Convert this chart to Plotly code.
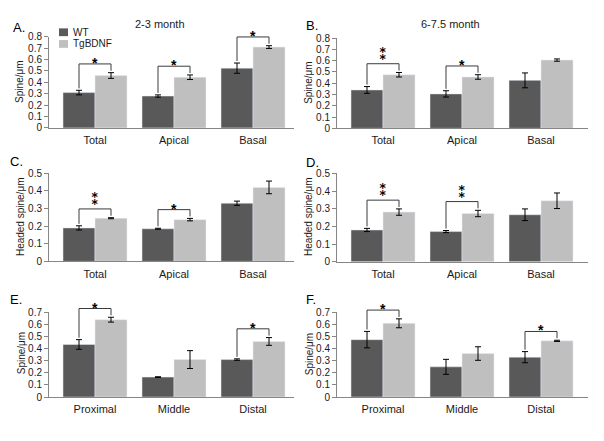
import plotly.graph_objects as go

W, H = 604, 441

# ---------------- data ----------------
groups_regions = ["Total", "Apical", "Basal"]
groups_segments = ["Proximal", "Middle", "Distal"]
series_names = ["WT", "TgBDNF"]
period_titles = ["2-3 month", "6-7.5 month"]

# A: spine density, 2-3 month
a_wt = [0.31, 0.28, 0.525]
a_wt_err = [0.02, 0.01, 0.045]
a_tg = [0.46, 0.445, 0.71]
a_tg_err = [0.025, 0.02, 0.012]
a_sig = ["*", "*", "*"]

# B: spine density, 6-7.5 month
b_wt = [0.34, 0.305, 0.425]
b_wt_err = [0.03, 0.028, 0.066]
b_tg = [0.475, 0.455, 0.605]
b_tg_err = [0.02, 0.02, 0.01]
b_sig = ["**", "*", ""]

# C: headed spine density, 2-3 month
c_wt = [0.19, 0.185, 0.33]
c_wt_err = [0.012, 0.003, 0.012]
c_tg = [0.245, 0.237, 0.42]
c_tg_err = [0.003, 0.007, 0.036]
c_sig = ["**", "*", ""]

# D: headed spine density, 6-7.5 month
d_wt = [0.18, 0.171, 0.266]
d_wt_err = [0.009, 0.006, 0.033]
d_tg = [0.281, 0.273, 0.345]
d_tg_err = [0.018, 0.018, 0.044]
d_sig = ["**", "**", ""]

# E: spine density by segment, 2-3 month
e_wt = [0.435, 0.165, 0.31]
e_wt_err = [0.04, 0.003, 0.006]
e_tg = [0.64, 0.31, 0.46]
e_tg_err = [0.02, 0.074, 0.032]
e_sig = ["*", "", "*"]

# F: spine density by segment, 6-7.5 month
f_wt = [0.475, 0.25, 0.33]
f_wt_err = [0.068, 0.062, 0.046]
f_tg = [0.61, 0.36, 0.465]
f_tg_err = [0.037, 0.056, 0.005]
f_sig = ["*", "", "*"]

y_titles = ["Spine/μm", "Headed spine/μm"]

# ---------------- layout / style ----------------
WT_COLOR = "#595959"
TG_COLOR = "#bfbfbf"
AXIS_COLOR = "#868686"
TEXT_COLOR = "#1a1a1a"
FONT = "Arial, Liberation Sans, sans-serif"
STAR_FONT = "DejaVu Sans, Arial, sans-serif"

panels = [
    dict(letter="A.", cats=groups_regions, wt=a_wt, wte=a_wt_err, tg=a_tg, tge=a_tg_err, sig=a_sig,
         ymax=0.8, px=(49, 294), py=(31.7, 125.3), ytitle=y_titles[0], lxy=(11, 22), txy=(20, 78)),
    dict(letter="B.", cats=groups_regions, wt=b_wt, wte=b_wt_err, tg=b_tg, tge=b_tg_err, sig=b_sig,
         ymax=0.8, px=(337, 588), py=(33.0, 125.7), ytitle=y_titles[0], lxy=(304, 20), txy=(309, 79)),
    dict(letter="C.", cats=groups_regions, wt=c_wt, wte=c_wt_err, tg=c_tg, tge=c_tg_err, sig=c_sig,
         ymax=0.5, px=(49, 294), py=(172.0, 262.5), ytitle=y_titles[1], lxy=(8, 160), txy=(20, 217)),
    dict(letter="D.", cats=groups_regions, wt=d_wt, wte=d_wt_err, tg=d_tg, tge=d_tg_err, sig=d_sig,
         ymax=0.5, px=(337, 588), py=(172.0, 263.0), ytitle=y_titles[1], lxy=(304, 161), txy=(308, 217)),
    dict(letter="E.", cats=groups_segments, wt=e_wt, wte=e_wt_err, tg=e_tg, tge=e_tg_err, sig=e_sig,
         ymax=0.7, px=(49, 294), py=(315.0, 402.0), ytitle=y_titles[0], lxy=(8, 302), txy=(21, 357)),
    dict(letter="F.", cats=groups_segments, wt=f_wt, wte=f_wt_err, tg=f_tg, tge=f_tg_err, sig=f_sig,
         ymax=0.7, px=(337, 588), py=(315.0, 402.0), ytitle=y_titles[0], lxy=(304, 302), txy=(309, 358)),
]

CAT_PX = 79.0            # pixel width of one category band
FIRST_CAT_OFFSET = 46.0  # px from y axis to first category centre
BAR_HALF = 0.2025        # centre offset of each bar in a 2-bar group (bargap 0.19)

fig = go.Figure()
layout = dict(
    width=W, height=H, margin=dict(l=0, r=0, t=0, b=0),
    paper_bgcolor="white", plot_bgcolor="white",
    barmode="group", bargap=0.19, bargroupgap=0,
    showlegend=False, font=dict(family=FONT, color=TEXT_COLOR),
)
shapes = []
annotations = []

for i, p in enumerate(panels, start=1):
    xa = "x" if i == 1 else f"x{i}"
    ya = "y" if i == 1 else f"y{i}"
    x0, x1 = p["px"]
    ytop, ybot = p["py"]
    xlo = -FIRST_CAT_OFFSET / CAT_PX
    xhi = xlo + (x1 - x0) / CAT_PX

    fig.add_trace(go.Bar(
        x=p["cats"], y=p["wt"], name=series_names[0], marker_color=WT_COLOR,
        error_y=dict(type="data", array=p["wte"], color="black", thickness=1, width=3),
        xaxis=xa, yaxis=ya))
    fig.add_trace(go.Bar(
        x=p["cats"], y=p["tg"], name=series_names[1], marker_color=TG_COLOR,
        error_y=dict(type="data", array=p["tge"], color="black", thickness=1, width=3),
        xaxis=xa, yaxis=ya))

    layout["xaxis" if i == 1 else f"xaxis{i}"] = dict(
        domain=[x0 / W, x1 / W], anchor=ya, type="category", range=[xlo, xhi],
        showline=True, linecolor=AXIS_COLOR, linewidth=1, ticks="", showgrid=False,
        zeroline=False, tickfont=dict(size=11, family=FONT, color=TEXT_COLOR),
        ticklabelstandoff=2, fixedrange=True)
    layout["yaxis" if i == 1 else f"yaxis{i}"] = dict(
        domain=[1 - ybot / H, 1 - ytop / H], anchor=xa, range=[0, p["ymax"]],
        dtick=0.1, showline=True, linecolor=AXIS_COLOR, linewidth=1,
        ticks="outside", ticklen=4, tickcolor=AXIS_COLOR, showgrid=False,
        zeroline=False, tickfont=dict(size=10, family=FONT, color=TEXT_COLOR),
        fixedrange=True)

    # significance brackets (computed from bar values + errors)
    plot_h = ybot - ytop
    pad = 9.0 / plot_h
    gap = 2.0 / plot_h
    ydom = f"{ya} domain"
    for k, s in enumerate(p["sig"]):
        if not s:
            continue
        top_wt = (p["wt"][k] + p["wte"][k]) / p["ymax"]
        top_tg = (p["tg"][k] + p["tge"][k]) / p["ymax"]
        yb = max(top_wt, top_tg) + pad
        xl = k - BAR_HALF
        xr = k + BAR_HALF
        path = f"M{xl},{top_wt + gap} L{xl},{yb} L{xr},{yb} L{xr},{top_tg + gap}"
        shapes.append(dict(type="path", xref=xa, yref=ydom, path=path,
                           line=dict(color="#3a3a3a", width=1)))
        if s == "*":
            annotations.append(dict(x=k, y=yb, xref=xa, yref=ydom, text="*",
                                    showarrow=False, yanchor="middle", yshift=1,
                                    font=dict(size=14, family=FONT, color="black",
                                              weight="bold")))
        else:
            # two asterisks stacked vertically
            annotations.append(dict(x=k, y=yb, xref=xa, yref=ydom, text="\u2051",
                                    showarrow=False, yanchor="bottom", yshift=-2,
                                    font=dict(size=15, family=STAR_FONT, color="black",
                                              weight="bold")))

    # panel letter
    lx, ly = p["lxy"]
    annotations.append(dict(x=lx / W, y=1 - ly / H, xref="paper", yref="paper",
                            text=p["letter"], showarrow=False, xanchor="left",
                            yanchor="middle", font=dict(size=13, family=FONT, color="black")))
    # y axis title
    tx, ty = p["txy"]
    annotations.append(dict(x=tx / W, y=1 - ty / H, xref="paper", yref="paper",
                            text=p["ytitle"], showarrow=False, textangle=-90,
                            xanchor="center", yanchor="middle",
                            font=dict(size=10, family=FONT, color=TEXT_COLOR)))

# column titles
for t, cx in zip(period_titles, (160, 450)):
    annotations.append(dict(x=cx / W, y=1 - 18 / H, xref="paper", yref="paper",
                            text=t, showarrow=False, xanchor="center", yanchor="middle",
                            font=dict(size=11, family=FONT, color=TEXT_COLOR)))

# legend (panel A)
for name, color, cy in zip(series_names, (WT_COLOR, TG_COLOR), (27.0, 39.0)):
    shapes.append(dict(type="rect", xref="paper", yref="paper",
                       x0=59 / W, x1=68 / W, y0=1 - (cy + 4) / H, y1=1 - (cy - 4) / H,
                       fillcolor=color, line=dict(width=0)))
    annotations.append(dict(x=71 / W, y=1 - cy / H, xref="paper", yref="paper",
                            text=name, showarrow=False, xanchor="left", yanchor="middle",
                            font=dict(size=10, family=FONT, color=TEXT_COLOR)))

layout["shapes"] = shapes
layout["annotations"] = annotations
fig.update_layout(**layout)
fig.write_html(
    "out.html",
    config={"displayModeBar": False, "staticPlot": True},
    post_script="document.body.style.margin='0';document.body.style.overflow='hidden';",
)
